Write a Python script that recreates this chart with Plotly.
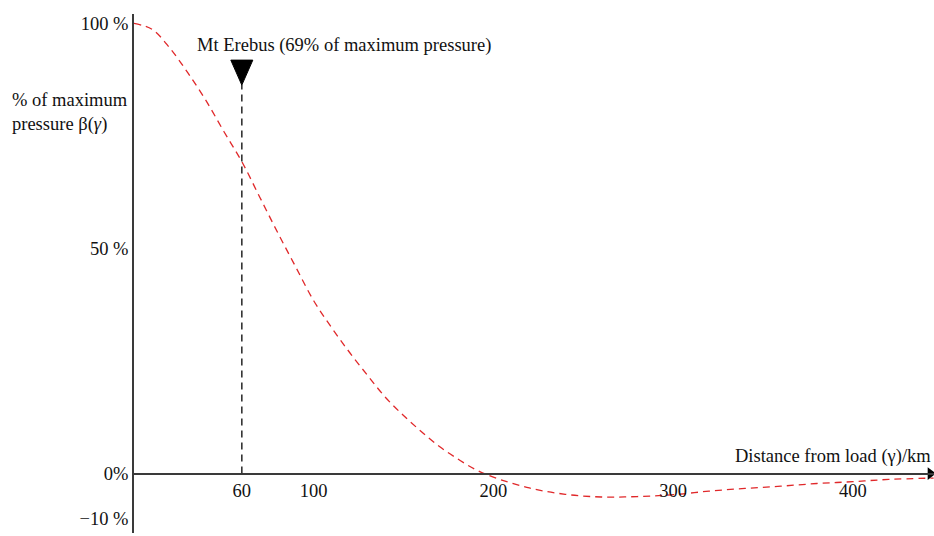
import plotly.graph_objects as go

# Values
distance_km = [0, 10, 20, 30, 40, 50, 60, 70, 80, 90, 100, 110, 120, 130, 140, 150, 160,
               170, 180, 190, 200, 220, 240, 260, 280, 300, 320, 340, 360, 380, 400, 420, 445]
pressure_pct = [100, 98.7, 94.5, 89.0, 82.9, 76.0, 69.3, 61.4, 53.5, 45.9, 38.4, 32.4, 26.9,
                21.8, 16.9, 12.9, 9.3, 6.0, 3.3, 0.9, -0.8, -3.2, -4.6, -5.2, -5.1, -4.7,
                -3.9, -3.3, -2.8, -2.2, -1.8, -1.3, -1.0]

x_ticks = [60, 100, 200, 300, 400]
y_ticks = [100, 50, 0, -10]
y_tick_text = ["100 %", "50 %", "0%", "\u221210 %"]

erebus_km = 60
erebus_label = "Mt Erebus (69% of maximum pressure)"
x_title = "Distance from load (\u03b3)/km"
y_title = "% of maximum<br>pressure \u03b2(<i>\u03b3</i>)"

x_range = [0, 445.2]
y_range = [-13.2, 102.1]

SERIF = "Liberation Serif, Times New Roman, serif"
AXIS_COL = "#3a3a3a"

fig = go.Figure()

fig.add_trace(go.Scatter(
    x=distance_km, y=pressure_pct, mode="lines", line_shape="spline",
    line=dict(color="#e0282a", width=1.3, dash="7px,5px", smoothing=1),
    hoverinfo="skip", showlegend=False))

# arrowhead at the end of the x axis
fig.add_trace(go.Scatter(
    x=[x_range[1] - 2], y=[0], mode="markers",
    marker=dict(symbol="triangle-right", size=11, color="black"),
    cliponaxis=False, hoverinfo="skip", showlegend=False))

# vertical dashed line at Mt Erebus
fig.add_shape(type="line", x0=erebus_km, x1=erebus_km, y0=0, y1=86.3,
              line=dict(color="#333333", width=1.6, dash="7px,5px"))
# black downward triangle marker
fig.add_shape(type="path", xsizemode="pixel", ysizemode="pixel",
              xanchor=erebus_km, yanchor=86.3,
              path="M-11,25 L11,25 L0,0 Z",
              fillcolor="black", line=dict(color="black", width=1))

fig.add_annotation(x=33.9, y=95, xref="x", yref="y", text=erebus_label,
                   showarrow=False, xanchor="left", yanchor="middle",
                   font=dict(family=SERIF, size=18.5, color="#111"))
fig.add_annotation(x=1, y=3.9, xref="paper", yref="y", text=x_title,
                   showarrow=False, xanchor="right", yanchor="middle", xshift=-1,
                   font=dict(family=SERIF, size=18.5, color="#111"))
fig.add_annotation(x=-0.155, y=0.81, xref="paper", yref="paper", text=y_title,
                   showarrow=False, xanchor="left", yanchor="middle", align="left",
                   font=dict(family=SERIF, size=18.5, color="#111"))

x_axis_pos = (0 - y_range[0]) / (y_range[1] - y_range[0])

fig.update_layout(
    width=934, height=536,
    margin=dict(l=134, r=0, t=14, b=3),
    paper_bgcolor="white", plot_bgcolor="white",
    font=dict(family=SERIF, size=18, color="#111"),
    xaxis=dict(range=x_range, tickvals=x_ticks, showgrid=False, zeroline=False,
               showline=True, linecolor=AXIS_COL, linewidth=1.6,
               anchor="free", position=x_axis_pos, ticks="",
               tickfont=dict(family=SERIF, size=18.5, color="#111")),
    yaxis=dict(range=y_range, tickvals=y_ticks, ticktext=y_tick_text,
               showgrid=False, zeroline=False, showline=True,
               linecolor=AXIS_COL, linewidth=1.6, ticks="",
               tickfont=dict(family=SERIF, size=18.5, color="#111")),
)

fig.write_html("out.html")
